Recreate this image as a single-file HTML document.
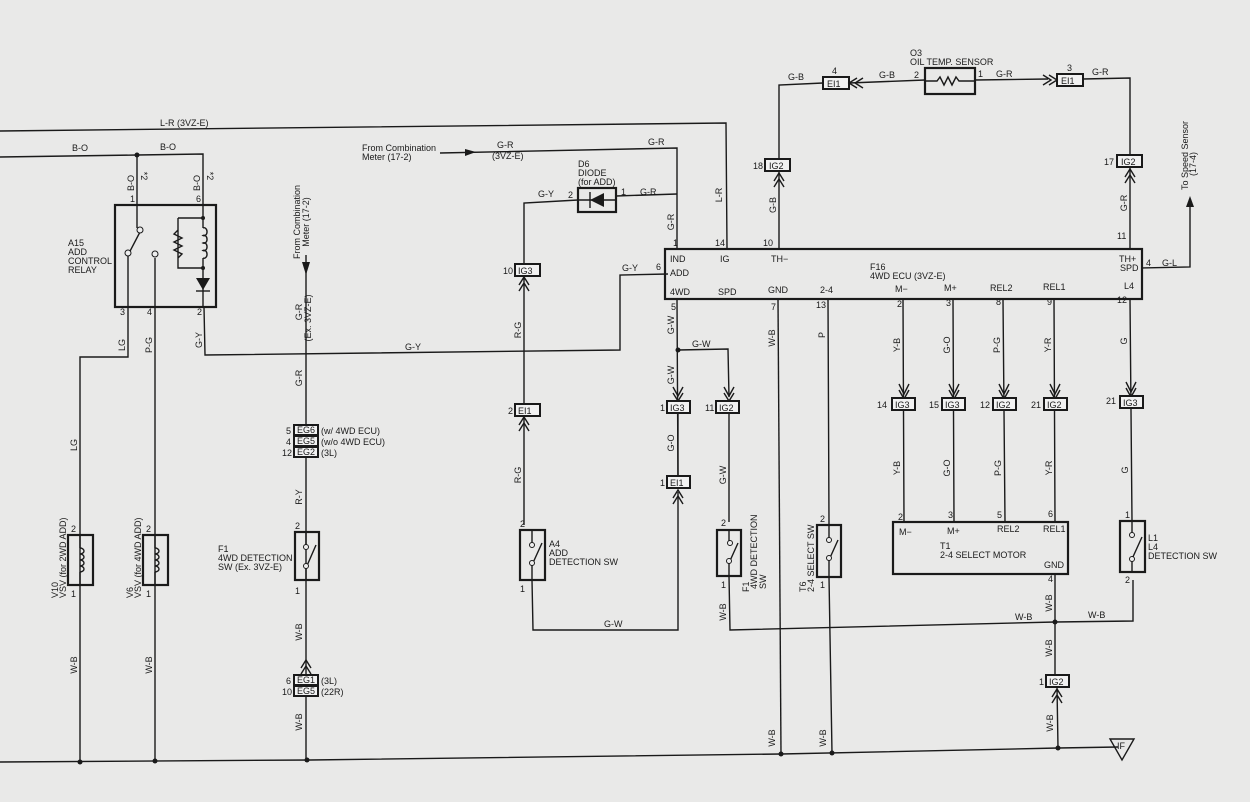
<!DOCTYPE html>
<html><head><meta charset="utf-8"><style>
html,body{margin:0;padding:0;background:#e9e9e8}
svg{display:block}
text{font-family:"Liberation Sans",sans-serif;font-size:9px;fill:#1a1a1a}
.v{text-anchor:middle}
.s{text-anchor:end}
.l{stroke:#1a1a1a;stroke-width:1.4;fill:none}
.b{stroke:#1a1a1a;stroke-width:2.2;fill:none}
.c{stroke:#1a1a1a;stroke-width:2;fill:#f2f2f2}
</style></head><body>
<svg width="1250" height="802" viewBox="0 0 1250 802">
<rect width="1250" height="802" fill="#e9e9e8"/>

<!-- L-R top line -->
<path class="l" d="M0 131 L726 123 L727 248"/>
<text x="160" y="126">L-R  (3VZ-E)</text>
<text class="v" transform="translate(722 195) rotate(-90)">L-R</text>

<!-- B-O -->
<path class="l" d="M0 157 L137 155 L203 154 L203 205"/>
<circle cx="137" cy="155" r="2.5" fill="#1a1a1a"/>
<path class="l" d="M137 155 L137 205"/>
<text x="72" y="151">B-O</text><text x="160" y="150">B-O</text>
<text class="v" transform="translate(134 183) rotate(-90)">B-O</text>
<text class="v" transform="translate(200 183) rotate(-90)">B-O</text>
<text class="v" transform="translate(141 176) rotate(90)">*2</text>
<text class="v" transform="translate(207 176) rotate(90)">*2</text>
<text x="130" y="202">1</text><text x="196" y="202">6</text>

<!-- Relay A15 -->
<rect class="b" x="115" y="205" width="101" height="102"/>
<path class="l" d="M137 205 L137 228 M128 307 L128 255 L140 232 M155 307 L155 258"/>
<circle cx="140" cy="230" r="3" fill="#eee" stroke="#1a1a1a"/><circle cx="128" cy="253" r="3" fill="#eee" stroke="#1a1a1a"/><circle cx="155" cy="254" r="3" fill="#eee" stroke="#1a1a1a"/>
<path class="l" d="M203 205 L203 218 M178 218 L203 218 M178 218 L178 268 L203 268 M178 230 l-4 4 l8 4 l-8 4 l8 4 l-8 4 l8 4 l-4 4"/>
<path class="l" d="M203 218 L203 228 M203 258 L203 307"/>
<path d="M203 228 a3 4 0 1 1 0 7.5 a3 4 0 1 1 0 7.5 a3 4 0 1 1 0 7.5 a3 4 0 1 1 0 7.5" class="l"/>
<circle cx="203" cy="218" r="2" fill="#1a1a1a"/><circle cx="203" cy="268" r="2" fill="#1a1a1a"/>
<path d="M196 278 L210 278 L203 290 Z" fill="#1a1a1a"/><path class="l" d="M196 291 L210 291"/>
<text x="68" y="246">A15</text><text x="68" y="255">ADD</text><text x="68" y="264">CONTROL</text><text x="68" y="273">RELAY</text>
<text x="120" y="315">3</text><text x="147" y="315">4</text><text x="197" y="315">2</text>

<!-- LG -->
<path class="l" d="M128 307 L128 357 L80 357 L80 762"/>
<text class="v" transform="translate(125 345) rotate(-90)">LG</text>
<text class="v" transform="translate(77 445) rotate(-90)">LG</text>
<rect class="b" x="68" y="535" width="25" height="50"/>
<path class="l" d="M80 535 L80 548 M80 572 L80 585"/>
<path class="l" d="M80 548 a4 3 0 1 1 0 6 a4 3 0 1 1 0 6 a4 3 0 1 1 0 6 a4 3 0 1 1 0 6"/>
<text x="71" y="532">2</text><text x="71" y="597">1</text>
<text transform="translate(58 598) rotate(-90)">V10</text>
<text transform="translate(66 598) rotate(-90)">VSV (for 2WD ADD)</text>
<text class="v" transform="translate(77 665) rotate(-90)">W-B</text>

<!-- P-G -->
<path class="l" d="M155 307 L155 762"/>
<text class="v" transform="translate(152 345) rotate(-90)">P-G</text>
<rect class="b" x="143" y="535" width="25" height="50"/>
<path class="l" d="M155 535 L155 548 M155 572 L155 585"/>
<path class="l" d="M155 548 a4 3 0 1 1 0 6 a4 3 0 1 1 0 6 a4 3 0 1 1 0 6 a4 3 0 1 1 0 6"/>
<text x="146" y="532">2</text><text x="146" y="597">1</text>
<text transform="translate(133 598) rotate(-90)">V6</text>
<text transform="translate(141 598) rotate(-90)">VSV (for 4WD ADD)</text>
<text class="v" transform="translate(152 665) rotate(-90)">W-B</text>

<!-- G-Y -->
<path class="l" d="M204 307 L205 355 L620 350 L620 275 L668 274"/>
<text class="v" transform="translate(202 340) rotate(-90)">G-Y</text>
<text x="405" y="350">G-Y</text>
<text x="622" y="271">G-Y</text><text x="656" y="270">6</text>

<!-- Left F1 -->
<path class="l" d="M306 255 L306 762"/>
<path d="M302 262 L306 275 L310 262 Z" fill="#1a1a1a"/>
<text class="v" transform="translate(300 222) rotate(-90)">From Combination</text>
<text class="v" transform="translate(309 222) rotate(-90)">Meter  (17-2)</text>
<text class="v" transform="translate(302 312) rotate(-90)">G-R</text>
<text class="v" transform="translate(311 318) rotate(-90)">(Ex. 3VZ-E)</text>
<text class="v" transform="translate(302 378) rotate(-90)">G-R</text>
<rect class="c" x="294" y="425" width="24" height="10"/><text x="297" y="433" font-size="8">EG6</text>
<rect class="c" x="294" y="436" width="24" height="10"/><text x="297" y="444" font-size="8">EG5</text>
<rect class="c" x="294" y="447" width="24" height="10"/><text x="297" y="455" font-size="8">EG2</text>
<text x="286" y="434">5</text><text x="286" y="445">4</text><text x="282" y="456">12</text>
<text x="321" y="434">(w/ 4WD ECU)</text><text x="321" y="445">(w/o 4WD ECU)</text><text x="321" y="456">(3L)</text>
<text class="v" transform="translate(302 497) rotate(-90)">R-Y</text>
<rect class="b" x="295" y="532" width="24" height="48"/>
<path class="l" d="M306 532 L306 545 M306 580 L306 568 L316 545"/>
<circle cx="306" cy="566" r="2.5" fill="#eee" stroke="#1a1a1a"/><circle cx="306" cy="547" r="2.5" fill="#eee" stroke="#1a1a1a"/>
<text x="295" y="529">2</text><text x="295" y="594">1</text>
<text x="218" y="552">F1</text><text x="218" y="561">4WD DETECTION</text><text x="218" y="570">SW (Ex. 3VZ-E)</text>
<text class="v" transform="translate(302 632) rotate(-90)">W-B</text>
<path class="l" d="M301 668 L306 660 L311 668 M301 674 L306 666 L311 674"/>
<rect class="c" x="294" y="675" width="24" height="10"/><text x="297" y="683" font-size="8">EG1</text>
<rect class="c" x="294" y="686" width="24" height="10"/><text x="297" y="694" font-size="8">EG5</text>
<text x="286" y="684">6</text><text x="282" y="695">10</text>
<text x="321" y="684">(3L)</text><text x="321" y="695">(22R)</text>
<text class="v" transform="translate(302 722) rotate(-90)">W-B</text>

<!-- From Combination Meter top -->
<text x="362" y="151">From Combination</text><text x="362" y="160">Meter (17-2)</text>
<path class="l" d="M440 153 L677 148 L677 248"/>
<path d="M465 149 L476 152 L465 156 Z" fill="#1a1a1a"/>
<text x="497" y="148">G-R</text><text x="492" y="159">(3VZ-E)</text>
<text x="648" y="145">G-R</text>

<!-- Diode -->
<rect class="b" x="578" y="188" width="38" height="24"/>
<path d="M590 200 L604 193 L604 207 Z" fill="#1a1a1a"/><path class="l" d="M590 192 L590 208 M578 200 L616 200"/>
<path class="l" d="M578 200 L524 203 L524 264 M616 196 L677 194"/>
<text x="578" y="167">D6</text><text x="578" y="176">DIODE</text><text x="578" y="185">(for ADD)</text>
<text x="538" y="197">G-Y</text><text x="568" y="198">2</text><text x="621" y="195">1</text><text x="640" y="195">G-R</text>
<text class="v" transform="translate(674 222) rotate(-90)">G-R</text>
<rect class="c" x="515" y="264" width="25" height="12"/><text x="518" y="274" font-size="8.5">IG3</text>
<text x="503" y="274">10</text>
<path class="l" d="M524 276 L524 525 M519 285 L524 277 L529 285 M519 291 L524 283 L529 291"/>
<text class="v" transform="translate(521 330) rotate(-90)">R-G</text>
<rect class="c" x="515" y="404" width="25" height="12"/><text x="518" y="414" font-size="8.5">EI1</text>
<text x="508" y="414">2</text>
<path class="l" d="M519 425 L524 417 L529 425 M519 431 L524 423 L529 431"/>
<text class="v" transform="translate(521 475) rotate(-90)">R-G</text>
<rect class="b" x="520" y="530" width="25" height="50"/>
<path class="l" d="M532 530 L532 543 M532 580 L532 565 L542 543 M532 580 L533 630 L678 630 L678 492"/>
<circle cx="532" cy="563" r="2.5" fill="#eee" stroke="#1a1a1a"/><circle cx="532" cy="545" r="2.5" fill="#eee" stroke="#1a1a1a"/>
<text x="520" y="527">2</text><text x="520" y="592">1</text>
<text x="549" y="547">A4</text><text x="549" y="556">ADD</text><text x="549" y="565">DETECTION SW</text>
<text x="604" y="627">G-W</text>

<!-- ECU -->
<rect class="b" x="665" y="249" width="477" height="50"/>
<text x="670" y="262">IND</text><text x="720" y="262">IG</text><text x="771" y="262">TH−</text><text x="1119" y="262">TH+</text>
<text x="670" y="276">ADD</text><text x="1120" y="271">SPD</text>
<text x="670" y="295">4WD</text><text x="718" y="295">SPD</text><text x="768" y="293">GND</text><text x="820" y="293">2-4</text>
<text x="895" y="292">M−</text><text x="944" y="291">M+</text><text x="990" y="291">REL2</text><text x="1043" y="290">REL1</text><text x="1124" y="289">L4</text>
<text x="870" y="270">F16</text><text x="870" y="279">4WD ECU (3VZ-E)</text>
<text x="673" y="246">1</text><text x="715" y="246">14</text><text x="763" y="246">10</text><text x="1117" y="239">11</text>
<text x="671" y="310">5</text><text x="771" y="310">7</text><text x="816" y="308">13</text><text x="897" y="307">2</text><text x="946" y="306">3</text><text x="996" y="305">8</text><text x="1047" y="305">9</text><text x="1117" y="303">12</text>
<text x="1146" y="266">4</text><text x="1162" y="266">G-L</text>

<!-- speed sensor -->
<path class="l" d="M1142 268 L1190 267 L1190 200"/>
<path d="M1186 207 L1190 196 L1194 207 Z" fill="#1a1a1a"/>
<text transform="translate(1188 190) rotate(-90)">To Speed Sensor</text>
<text transform="translate(1196 176) rotate(-90)">(17-4)</text>

<!-- Oil temp sensor -->
<path class="l" d="M779 249 L779 85 L823 83 M849 83 L925 80 M975 80 L1048 79 M1083 79 L1130 78 L1130 249"/>
<rect class="c" x="823" y="77" width="26" height="12"/><text x="827" y="87" font-size="8.5">EI1</text><text x="832" y="74">4</text>
<rect class="c" x="1057" y="74" width="26" height="12"/><text x="1061" y="84" font-size="8.5">EI1</text><text x="1067" y="71">3</text>
<path class="l" d="M857 78 L849 83 L857 88 M863 78 L855 83 L863 88 M1043 75 L1051 80 L1043 85 M1049 75 L1057 80 L1049 85"/>
<rect class="b" x="925" y="68" width="50" height="26"/>
<path class="l" d="M925 81 L937 81 l3 -4 l4 8 l4 -8 l4 8 l4 -8 l3 4 L975 81"/>
<text x="910" y="56">O3</text><text x="910" y="65">OIL TEMP. SENSOR</text>
<text x="788" y="80">G-B</text><text x="879" y="78">G-B</text><text x="914" y="78">2</text><text x="978" y="77">1</text><text x="996" y="77">G-R</text><text x="1092" y="75">G-R</text>
<rect class="c" x="765" y="159" width="25" height="12"/><text x="769" y="169" font-size="8.5">IG2</text><text x="753" y="169">18</text>
<path class="l" d="M774 181 L779 173 L784 181 M774 187 L779 179 L784 187"/>
<text class="v" transform="translate(776 205) rotate(-90)">G-B</text>
<rect class="c" x="1117" y="155" width="25" height="12"/><text x="1121" y="165" font-size="8.5">IG2</text><text x="1104" y="165">17</text>
<path class="l" d="M1125 177 L1130 169 L1135 177 M1125 183 L1130 175 L1135 183"/>
<text class="v" transform="translate(1127 203) rotate(-90)">G-R</text>

<!-- 4WD G-W -->
<path class="l" d="M677 299 L678 482 M678 350 L728 349 L729 397"/>
<circle cx="678" cy="350" r="2.5" fill="#1a1a1a"/>
<text class="v" transform="translate(674 325) rotate(-90)">G-W</text>
<text class="v" transform="translate(674 375) rotate(-90)">G-W</text>
<text x="692" y="347">G-W</text>
<path class="l" d="M673 387 L678 396 L683 387 M673 393 L678 401 L683 393 M724 387 L729 396 L734 387 M724 393 L729 401 L734 393"/>
<rect class="c" x="667" y="401" width="23" height="12"/><text x="670" y="411" font-size="8.5">IG3</text><text x="660" y="411">1</text>
<rect class="c" x="716" y="401" width="23" height="12"/><text x="719" y="411" font-size="8.5">IG2</text><text x="705" y="411">11</text>
<path class="l" d="M678 413 L678 476 M729 413 L729 522"/>
<text class="v" transform="translate(674 443) rotate(-90)">G-O</text>
<text class="v" transform="translate(726 475) rotate(-90)">G-W</text>
<rect class="c" x="667" y="476" width="23" height="12"/><text x="670" y="486" font-size="8.5">EI1</text><text x="660" y="486">1</text>
<path class="l" d="M673 498 L678 490 L683 498 M673 504 L678 496 L683 504"/>

<!-- F1 right -->
<rect class="b" x="717" y="530" width="24" height="46"/>
<path class="l" d="M729 530 L729 541 M729 576 L729 563 L738 543 M729 576 L730 630 L1055 622"/>
<circle cx="729" cy="561" r="2.5" fill="#eee" stroke="#1a1a1a"/><circle cx="730" cy="543" r="2.5" fill="#eee" stroke="#1a1a1a"/>
<text x="721" y="526">2</text><text x="721" y="588">1</text>
<text transform="translate(749 592) rotate(-90)">F1</text>
<text transform="translate(757 589) rotate(-90)">4WD DETECTION</text>
<text transform="translate(766 589) rotate(-90)">SW</text>
<text class="v" transform="translate(726 612) rotate(-90)">W-B</text>

<!-- GND W-B -->
<path class="l" d="M778 299 L781 754"/>
<text class="v" transform="translate(775 338) rotate(-90)">W-B</text>
<text class="v" transform="translate(775 738) rotate(-90)">W-B</text>
<!-- 2-4 P -->
<path class="l" d="M828 299 L829 524 M829 577 L832 753"/>
<text class="v" transform="translate(825 335) rotate(-90)">P</text>
<rect class="b" x="817" y="525" width="24" height="52"/>
<path class="l" d="M829 525 L829 538 M829 577 L829 560 L838 540"/>
<circle cx="829" cy="558" r="2.5" fill="#eee" stroke="#1a1a1a"/><circle cx="829" cy="540" r="2.5" fill="#eee" stroke="#1a1a1a"/>
<text x="820" y="522">2</text><text x="820" y="588">1</text>
<text transform="translate(806 592) rotate(-90)">T6</text>
<text transform="translate(814 592) rotate(-90)">2-4 SELECT SW</text>
<text class="v" transform="translate(826 738) rotate(-90)">W-B</text>

<!-- motor lines -->
<path class="l" d="M903 299 L904 522 M953 299 L954 522 M1003 299 L1005 522 M1054 299 L1055 522 M1130 299 L1132 521"/>
<text class="v" transform="translate(900 345) rotate(-90)">Y-B</text>
<text class="v" transform="translate(950 345) rotate(-90)">G-O</text>
<text class="v" transform="translate(1000 345) rotate(-90)">P-G</text>
<text class="v" transform="translate(1051 345) rotate(-90)">Y-R</text>
<text class="v" transform="translate(1127 341) rotate(-90)">G</text>
<path class="l" d="M899 384 L904 394 L909 384 M899 390 L904 399 L909 390 M949 384 L954 394 L959 384 M949 390 L954 399 L959 390 M999 384 L1004 394 L1009 384 M999 390 L1004 399 L1009 390 M1050 384 L1055 394 L1060 384 M1050 390 L1055 399 L1060 390 M1126 382 L1131 392 L1136 382 M1126 388 L1131 397 L1136 388"/>
<rect class="c" x="892" y="398" width="23" height="12"/><text x="895" y="408" font-size="8.5">IG3</text><text x="877" y="408">14</text>
<rect class="c" x="942" y="398" width="23" height="12"/><text x="945" y="408" font-size="8.5">IG3</text><text x="929" y="408">15</text>
<rect class="c" x="993" y="398" width="23" height="12"/><text x="996" y="408" font-size="8.5">IG2</text><text x="980" y="408">12</text>
<rect class="c" x="1044" y="398" width="23" height="12"/><text x="1047" y="408" font-size="8.5">IG2</text><text x="1031" y="408">21</text>
<rect class="c" x="1120" y="396" width="23" height="12"/><text x="1123" y="406" font-size="8.5">IG3</text><text x="1106" y="404">21</text>
<text class="v" transform="translate(900 468) rotate(-90)">Y-B</text>
<text class="v" transform="translate(950 468) rotate(-90)">G-O</text>
<text class="v" transform="translate(1001 468) rotate(-90)">P-G</text>
<text class="v" transform="translate(1052 468) rotate(-90)">Y-R</text>
<text class="v" transform="translate(1128 470) rotate(-90)">G</text>

<!-- T1 -->
<rect class="b" x="893" y="522" width="175" height="52"/>
<text x="898" y="520">2</text><text x="948" y="518">3</text><text x="997" y="518">5</text><text x="1048" y="517">6</text>
<text x="899" y="535">M−</text><text x="947" y="534">M+</text><text x="997" y="532">REL2</text><text x="1043" y="532">REL1</text>
<text x="940" y="549">T1</text><text x="940" y="558">2-4 SELECT MOTOR</text>
<text x="1044" y="568">GND</text><text x="1048" y="582">4</text>
<path class="l" d="M1055 574 L1055 680 M1055 622 L1133 621 L1133 580"/>
<circle cx="1055" cy="622" r="2.5" fill="#1a1a1a"/>
<text class="v" transform="translate(1052 603) rotate(-90)">W-B</text>
<text x="1015" y="620">W-B</text><text x="1088" y="618">W-B</text>
<text class="v" transform="translate(1052 648) rotate(-90)">W-B</text>
<rect class="c" x="1046" y="675" width="23" height="12"/><text x="1049" y="685" font-size="8.5">IG2</text><text x="1039" y="685">1</text>
<path class="l" d="M1052 697 L1057 689 L1062 697 M1052 703 L1057 695 L1062 703 M1057 687 L1058 748"/>
<text class="v" transform="translate(1053 723) rotate(-90)">W-B</text>

<!-- L1 -->
<rect class="b" x="1120" y="521" width="25" height="51"/>
<path class="l" d="M1132 521 L1132 535 M1132 572 L1132 559 L1142 537"/>
<circle cx="1132" cy="535" r="2.5" fill="#eee" stroke="#1a1a1a"/><circle cx="1132" cy="559" r="2.5" fill="#eee" stroke="#1a1a1a"/>
<text x="1125" y="518">1</text><text x="1125" y="583">2</text>
<text x="1148" y="541">L1</text><text x="1148" y="550">L4</text><text x="1148" y="559">DETECTION SW</text>

<!-- Ground line -->
<path class="l" d="M0 762 L310 760 L781 754 L1058 748 L1118 747"/>
<g fill="#1a1a1a"><circle cx="80" cy="762" r="2.5"/><circle cx="155" cy="761" r="2.5"/><circle cx="307" cy="760" r="2.5"/><circle cx="781" cy="754" r="2.5"/><circle cx="832" cy="753" r="2.5"/><circle cx="1058" cy="748" r="2.5"/></g>
<path class="l" d="M1110 739 L1134 739 L1122 760 Z"/>
<text x="1117" y="749" font-size="8">IF</text>
</svg>
</body></html>
